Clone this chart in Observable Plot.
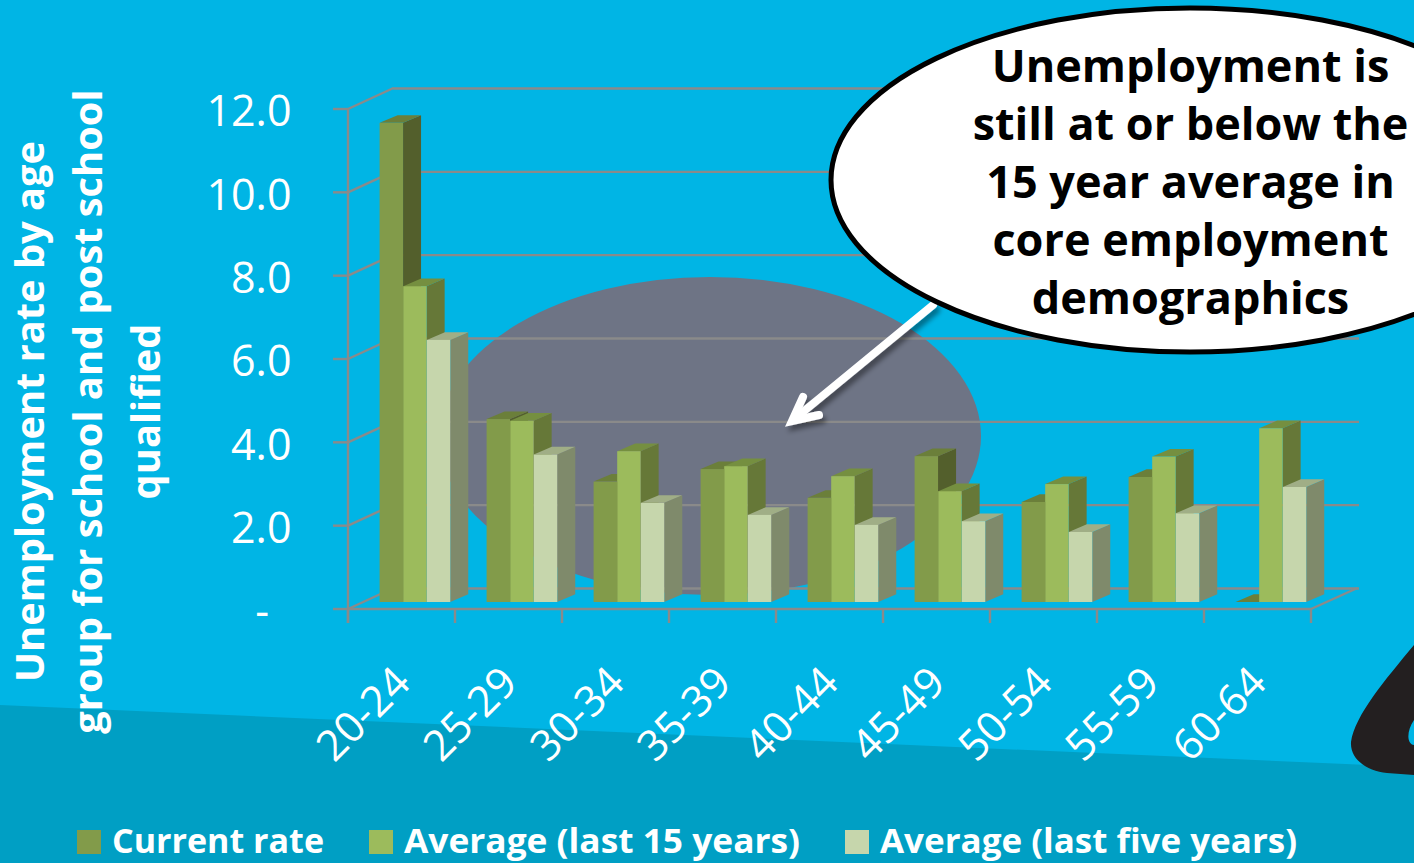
<!DOCTYPE html>
<html>
<head>
<meta charset="utf-8">
<script src="https://cdn.jsdelivr.net/npm/d3@7"></script>
<script src="https://cdn.jsdelivr.net/npm/@observablehq/plot@0.6"></script>
<style>
html,body{margin:0;padding:0;background:#00b5e5;overflow:hidden}
#stage{position:relative;width:1414px;height:863px;overflow:hidden;font-family:"Open Sans",sans-serif}
#stage svg{position:absolute;left:0;top:0}
</style>
</head>
<body>
<div id="stage">
<svg width="1414" height="863" viewBox="0 0 1414 863">
  <rect width="1414" height="863" fill="#00b5e5"/>
  <polygon points="0,705 1414,767 1414,863 0,863" fill="#009fc4"/>
  <ellipse cx="710" cy="436" rx="271" ry="159" fill="#6e7485"/>
  <path d="M1414,645 C1385,680 1355,715 1351,742 C1350,760 1368,771 1387,773 L1414,775 L1414,745 C1407,744 1406,732 1414,720 Z" fill="#231f20"/>
</svg>
<div id="plot"></div>
<svg width="1414" height="863" viewBox="0 0 1414 863" id="over">
  <defs><filter id="sh" x="-20%" y="-20%" width="140%" height="140%"><feDropShadow dx="3" dy="5" stdDeviation="2.5" flood-color="#000" flood-opacity="0.4"/></filter></defs>
  <g filter="url(#sh)" fill="none" stroke="#fff" stroke-width="8" stroke-linecap="round">
    <line x1="933" y1="305" x2="798" y2="416"/>
    <path d="M803,397 L792,421 L819,415" stroke-linejoin="miter"/>
  </g>
  <ellipse cx="1190" cy="180" rx="359" ry="172" fill="#fff" stroke="#000" stroke-width="5"/>
  <g id="callout" fill="#000" font-weight="700" font-size="45" text-anchor="middle"></g>
  <g id="ytitle" fill="#fff" font-weight="700" font-size="39.8" text-anchor="middle"></g>
  <g id="legend" fill="#fff" font-weight="700" font-size="34.8"></g>
</svg>
</div>
<script>
const ages = ["20-24","25-29","30-34","35-39","40-44","45-49","50-54","55-59","60-64"];
const currentRate = [11.5,4.39,2.89,3.19,2.5,3.5,2.4,3.0,0];
const average15 = [7.58,4.35,3.62,3.26,3.02,2.66,2.83,3.49,4.17];
const average5 = [6.29,3.54,2.38,2.09,1.85,1.94,1.68,2.13,2.76];
const yTicks = [0,2,4,6,8,10,12];
const seriesNames = ["Current rate","Average (last 15 years)","Average (last five years)"];
const calloutLines = ["Unemployment is","still at or below the","15 year average in","core employment","demographics"];
const yTitleLines = ["Unemployment rate by age","group for school and post school","qualified"];

const bandW = 107.15, pad = 31.6, barW = 23.6, depthX = 18, depthY = -7.7, wallX = 45.5, wallY = -21;
const grey = "#8a8a8a";

function bars3d(values, k, front, side, top) {
  return Plot.barY(ages, {
    x: ages, y: values, fill: front, dy: -7,
    insetLeft: pad + barW * k,
    insetRight: bandW - pad - barW * (k + 1),
    render(i, s, v, d, c, next) {
      const g = next(i, s, v, d, c);
      const sel = d3.select(g);
      sel.selectAll("rect").each(function () {
        const r = this;
        const x = +r.getAttribute("x"), y = +r.getAttribute("y");
        const w = +r.getAttribute("width"), h = +r.getAttribute("height");
        const parent = r.parentNode;
        const ns = "http://www.w3.org/2000/svg";
        const sp = document.createElementNS(ns, "polygon");
        sp.setAttribute("points", [[x+w,y],[x+w+depthX,y+depthY],[x+w+depthX,y+h+depthY],[x+w,y+h]].join(" "));
        sp.setAttribute("fill", side);
        const tp = document.createElementNS(ns, "polygon");
        tp.setAttribute("points", [[x,y],[x+depthX,y+depthY],[x+w+depthX,y+depthY],[x+w,y]].join(" "));
        tp.setAttribute("fill", top);
        parent.insertBefore(sp, r);
        parent.insertBefore(tp, r);
      });
      return g;
    }
  });
}

function frame3d(index, {x, y}) {
  const left = x(ages[0]);
  const bw = x.bandwidth();
  const right = x(ages[ages.length - 1]) + bw;
  const g = d3.create("svg:g").attr("stroke", grey).attr("stroke-width", 2.4).attr("fill", "none");
  g.append("line").attr("x1", left).attr("x2", left).attr("y1", y(12)).attr("y2", y(0) + 14);
  for (const t of yTicks) {
    g.append("line").attr("x1", left - 15).attr("x2", left).attr("y1", y(t)).attr("y2", y(t));
    g.append("line").attr("x1", left).attr("x2", left + wallX).attr("y1", y(t)).attr("y2", y(t) + wallY);
  }
  g.append("line").attr("x1", left).attr("x2", right).attr("y1", y(0)).attr("y2", y(0));
  g.append("line").attr("x1", right).attr("x2", right + wallX + 1).attr("y1", y(0)).attr("y2", y(0) + wallY);
  for (const a of ages) {
    g.append("line").attr("x1", x(a)).attr("x2", x(a)).attr("y1", y(0)).attr("y2", y(0) + 14);
  }
  g.append("line").attr("x1", right).attr("x2", right).attr("y1", y(0)).attr("y2", y(0) + 14);
  return g.node();
}

const chart = Plot.plot({
  width: 1414, height: 863,
  marginLeft: 393, marginRight: 55, marginTop: 0, marginBottom: 254,
  style: {background: "transparent", fontFamily: "Open Sans", overflow: "visible", maxWidth: "none"},
  x: {type: "band", domain: ages, range: [347.7, 347.7 + bandW * 9], padding: 0, label: null},
  y: {domain: [0, 12], range: [609, 109], label: null},
  marks: [
    Plot.ruleY(yTicks, {stroke: grey, strokeWidth: 2.4, dy: wallY}),
    frame3d,
    bars3d(currentRate, 0, "#829b4a", "#535f2c", "#6b7f3a"),
    bars3d(average15, 1, "#9cbb5c", "#667838", "#758f40"),
    bars3d(average5, 2, "#c6d6ac", "#7f8a6b", "#a0ae86"),
    Plot.axisY({ticks: yTicks, tickSize: 0, tickPadding: 102, fontSize: 43, dy: 3, color: "#fff", fontWeight: 400,
      tickFormat: d => d === 0 ? "-\u00a0\u00a0" : d.toFixed(1), label: null}),
    Plot.axisX({tickSize: 0, tickRotate: -45, fontSize: 42.5, color: "#fff", label: null, tickPadding: 66, dx: 1})
  ]
});
document.getElementById("plot").appendChild(chart);

const ns = "http://www.w3.org/2000/svg";
function addText(parent, str, attrs) {
  const t = document.createElementNS(ns, "text");
  t.textContent = str;
  for (const k in attrs) t.setAttribute(k, attrs[k]);
  document.getElementById(parent).appendChild(t);
}
calloutLines.forEach((l, i) => addText("callout", l, {x: 1190.5, y: 82 + 58 * i}));
yTitleLines.forEach((l, i) => addText("ytitle", l, {transform: `translate(${43.5 + 58 * i},411.5) rotate(-90)`}));
const legendSwatch = ["#829b4a", "#9cbb5c", "#c6d6ac"];
const legendX = [77, 369, 845];
const legendLen = [212, 396, 417];
seriesNames.forEach((l, i) => {
  const r = document.createElementNS(ns, "rect");
  r.setAttribute("x", legendX[i]); r.setAttribute("y", 830);
  r.setAttribute("width", 24); r.setAttribute("height", 24);
  r.setAttribute("fill", legendSwatch[i]);
  document.getElementById("legend").appendChild(r);
  addText("legend", l, {x: legendX[i] + 35, y: 852.5, textLength: legendLen[i], lengthAdjust: "spacingAndGlyphs"});
});
</script>
</body>
</html>
